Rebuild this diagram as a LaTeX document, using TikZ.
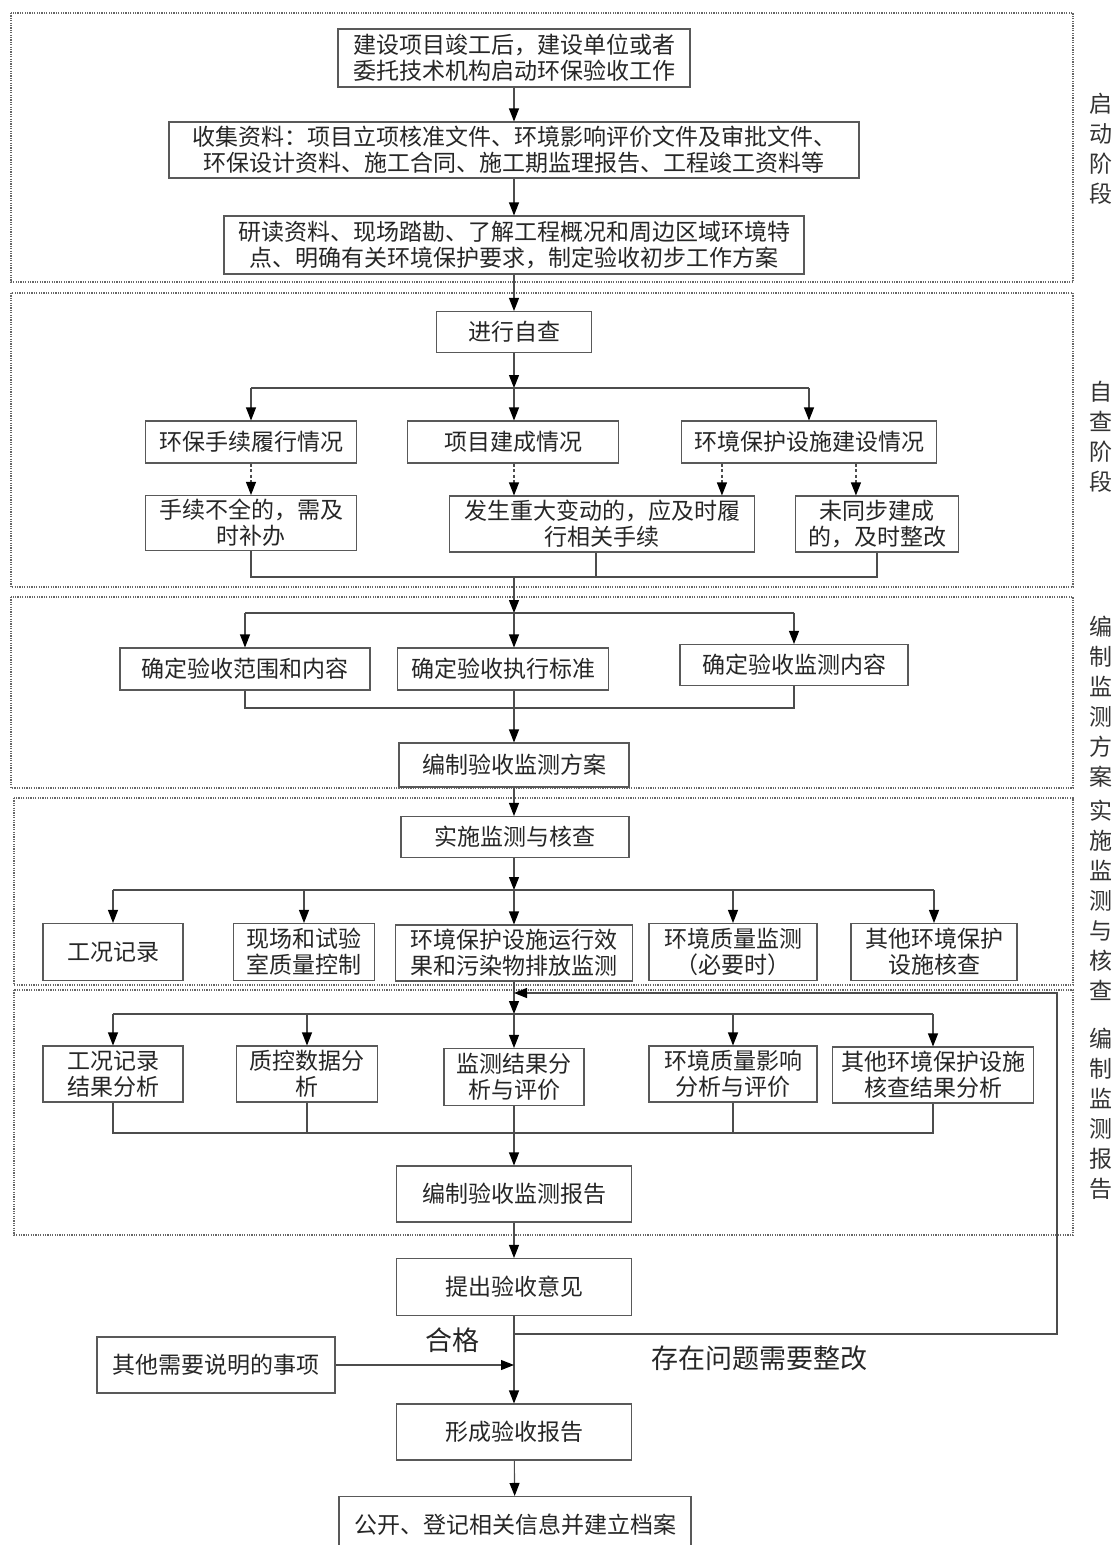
\documentclass[tikz,border=0pt]{standalone}
\usepackage{fontspec}
\newfontfamily\cjk{Noto Sans CJK SC}
\usetikzlibrary{arrows.meta}

\tikzset{
    box/.style={draw=black!65, line width=1.1pt, fill=white, align=center, inner sep=0pt,
        text=black!85, font=\cjk\fontsize{23}{26}\selectfont},
    stage/.style={draw=black!60, line width=1.2pt, dash pattern=on 1.2pt off 1.2pt},
    ln/.style={draw=black!70, line width=1.1pt},
    arr/.style={ln, -{Triangle[length=13pt,width=10pt,black]}},
    dasharr/.style={arr, dash pattern=on 3pt off 2.5pt},
    side/.style={align=center, inner sep=0pt, text=black!80, font=\cjk\fontsize{23}{30}\selectfont},
    note/.style={inner sep=0pt, text=black!85, font=\cjk\fontsize{27}{27}\selectfont}
}

\begin{document}
\begin{tikzpicture}[x=1pt, y=-1pt]
    \useasboundingbox (0,0) rectangle (1117,1545);

    \draw[stage] (11,13) rectangle (1073,282);
    \draw[stage] (11,293) rectangle (1073,587);
    \draw[stage] (11,597) rectangle (1073,788);
    \draw[stage] (14,798) rectangle (1073,985);
    \draw[stage] (14,990) rectangle (1073,1235);

    \node[side] (lstart) at (1101,149) {启\\动\\阶\\段};
    \node[side] (lcheck) at (1101,437) {自\\查\\阶\\段};
    \node[side] (lplan) at (1101,702) {编\\制\\监\\测\\方\\案};
    \node[side] (lexec) at (1101,900) {实\\施\\监\\测\\与\\核\\查};
    \node[side] (lreport) at (1101,1114) {编\\制\\监\\测\\报\\告};

    \node[box, minimum width=352, minimum height=58] (start) at (514,58) {建设项目竣工后，建设单位或者\\委托技术机构启动环保验收工作};
    \node[box, minimum width=690, minimum height=56] (collect) at (514,150) {收集资料：项目立项核准文件、环境影响评价文件及审批文件、\\环保设计资料、施工合同、施工期监理报告、工程竣工资料等};
    \node[box, minimum width=580, minimum height=58] (study) at (514,245) {研读资料、现场踏勘、了解工程概况和周边区域环境特\\点、明确有关环境保护要求，制定验收初步工作方案};

    \node[box, minimum width=155, minimum height=41] (self) at (514,332) {进行自查};
    \node[box, minimum width=211, minimum height=42] (proc) at (251,442) {环保手续履行情况};
    \node[box, minimum width=211, minimum height=42] (built) at (513,442) {项目建成情况};
    \node[box, minimum width=255, minimum height=42] (facil) at (809,442) {环境保护设施建设情况};
    \node[box, minimum width=211, minimum height=55] (procfix) at (251,523) {手续不全的，需及\\时补办};
    \node[box, minimum width=305, minimum height=56] (change) at (602,524) {发生重大变动的，应及时履\\行相关手续};
    \node[box, minimum width=163, minimum height=56] (facfix) at (877,524) {未同步建成\\的，及时整改};

    \node[box, minimum width=250, minimum height=42] (scope) at (245,669) {确定验收范围和内容};
    \node[box, minimum width=211, minimum height=42] (std) at (503,669) {确定验收执行标准};
    \node[box, minimum width=228, minimum height=41] (item) at (794,665) {确定验收监测内容};
    \node[box, minimum width=230, minimum height=44] (plan) at (514,765) {编制验收监测方案};

    \node[box, minimum width=228, minimum height=41] (exec) at (515,837) {实施监测与核查};
    \node[box, minimum width=140, minimum height=57] (rec) at (113,952) {工况记录};
    \node[box, minimum width=141, minimum height=57] (qc) at (304,952) {现场和试验\\室质量控制};
    \node[box, minimum width=237, minimum height=56] (emis) at (514,953) {环境保护设施运行效\\果和污染物排放监测};
    \node[box, minimum width=168, minimum height=57] (env) at (733,952) {环境质量监测\\（必要时）};
    \node[box, minimum width=166, minimum height=57] (other) at (934,952) {其他环境保护\\设施核查};

    \node[box, minimum width=140, minimum height=56] (recan) at (113,1074) {工况记录\\结果分析};
    \node[box, minimum width=141, minimum height=56] (qcan) at (307,1074) {质控数据分\\析};
    \node[box, minimum width=140, minimum height=57] (resan) at (514,1077) {监测结果分\\析与评价};
    \node[box, minimum width=168, minimum height=56] (envan) at (733,1074) {环境质量影响\\分析与评价};
    \node[box, minimum width=201, minimum height=56] (othan) at (933,1075) {其他环境保护设施\\核查结果分析};
    \node[box, minimum width=235, minimum height=56] (report) at (514,1194) {编制验收监测报告};

    \node[box, minimum width=235, minimum height=57] (opinion) at (514,1287) {提出验收意见};
    \node[box, minimum width=238, minimum height=56] (misc) at (216,1365) {其他需要说明的事项};
    \node[box, minimum width=235, minimum height=56] (final) at (514,1432) {形成验收报告};
    \node[box, minimum width=352, minimum height=57] (pub) at (515,1525) {公开、登记相关信息并建立档案};

    \node[note] (pass) at (452,1340) {合格};
    \node[note] (rework) at (759,1358) {存在问题需要整改};

    \draw[arr] (start) -- (collect);
    \draw[arr] (collect) -- (study);
    \draw[arr] (study) -- (self);

    \coordinate (j1) at (514,388);
    \draw[arr] (self) -- (j1);
    \draw[ln] (j1 -| proc) -- (j1 -| facil);
    \draw[arr] (j1 -| proc) -- (proc);
    \draw[arr] (j1) -- (built.north -| j1);
    \draw[arr] (j1 -| facil) -- (facil);
    \path (facil.south west) ++(41,0) coordinate (fa) ++(134,0) coordinate (fb);
    \path (change.south west) ++(147,0) coordinate (cb);
    \draw[dasharr] (proc) -- (procfix);
    \draw[dasharr] (built.south -| j1) -- (change.north -| j1);
    \draw[dasharr] (fa) -- (fa |- change.north);
    \draw[dasharr] (fb) -- (fb |- facfix.north);

    \coordinate (m1) at (514,577);
    \draw[ln] (procfix) |- (m1) -| (facfix);
    \draw[ln] (cb) -- (cb |- m1);
    \coordinate (j2) at (514,613);
    \draw[arr] (m1) -- (j2);
    \draw[ln] (j2 -| scope) -- (j2 -| item);
    \draw[arr] (j2 -| scope) -- (scope);
    \draw[arr] (j2) -- (std.north -| j2);
    \draw[arr] (j2 -| item) -- (item);
    \coordinate (m2) at (514,708);
    \draw[ln] (scope) |- (m2) -| (item);
    \draw[arr] (std.south -| m2) -- (plan);
    \draw[arr] (plan) -- (exec.north -| plan);

    \coordinate (j3) at (514,890);
    \draw[arr] (exec.south -| j3) -- (j3);
    \draw[ln] (j3 -| rec) -- (j3 -| other);
    \foreach \nd in {rec, qc, env, other}
        \draw[arr] (j3 -| \nd) -- (\nd);
    \draw[arr] (j3) -- (emis);

    \coordinate (j4) at (514,1014);
    \coordinate (q1) at (514,1334);
    \coordinate (fbr) at (1057,1334);
    \coordinate (fbt) at (1057,993);
    \draw[arr] (emis) -- (j4);
    \draw[arr] (q1) -- (fbr) -- (fbt) -- (fbt -| j4);
    \draw[ln] (j4 -| recan) -- (j4 -| othan);
    \foreach \nd in {recan, qcan, envan, othan}
        \draw[arr] (j4 -| \nd) -- (\nd);
    \draw[arr] (j4) -- (resan);

    \coordinate (m3) at (514,1133);
    \draw[ln] (recan) |- (m3) -| (othan);
    \draw[ln] (qcan) -- (qcan |- m3);
    \draw[ln] (envan) -- (envan |- m3);
    \draw[arr] (resan) -- (report);
    \draw[arr] (report) -- (opinion);
    \draw[arr] (opinion) -- (final);
    \draw[arr] (misc) -- (misc -| final);
    \draw[arr] (final) -- (pub);
\end{tikzpicture}
\end{document}
